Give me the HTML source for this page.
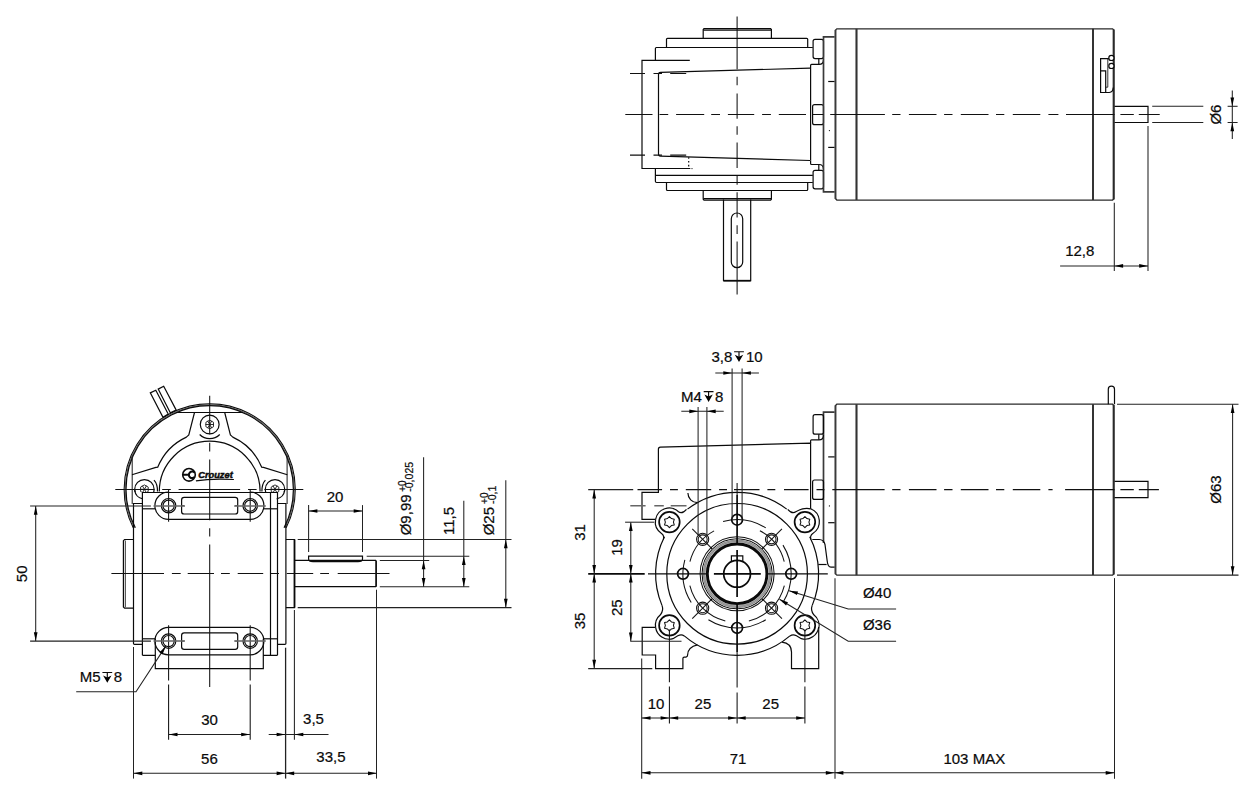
<!DOCTYPE html>
<html lang="en"><head><meta charset="utf-8"><title>Geared motor dimensions</title>
<style>
html,body{margin:0;padding:0;background:#fff}
svg{display:block}
path,circle,rect,polyline{fill:none;stroke:#0a0a0a;stroke-width:1;stroke-linecap:butt}
.m{stroke-width:1.2}
.k{stroke-width:1.7}
.kk{stroke-width:2.4}
.g{stroke:#3a3a3a;stroke-width:1.7}
.n{stroke-width:.9;stroke:#1a1a1a}
.c{stroke-width:1.05;stroke:#111}
.d{stroke-width:1.05;stroke:#222}
.h{stroke:#666;stroke-width:1.5}
.a{fill:#000;stroke:none}
.f{fill:#000;stroke:none}
text{font-family:"Liberation Sans","DejaVu Sans",sans-serif;font-size:15px;fill:#0a0a0a;stroke:#0a0a0a;stroke-width:.22px}
.s{font-size:10px}
.s2{font-size:10.6px}
.lg{font-size:8.8px;font-weight:bold;font-style:italic;stroke-width:.45px}
</style></head>
<body>
<svg width="1254" height="790" viewBox="0 0 1254 790">
<rect x="0" y="0" width="1254" height="790" style="fill:#fff;stroke:none"/>
<g id="top-view">
<path class="m" d="M703.2,38.3V29.5L704,28.6H770.6L771.4,29.5V38.3"/>
<path class="m" d="M703.4,30.1L771.2,30.1"/>
<path class="m" d="M703.2,190.4V199.2L704,200.1H770.6L771.4,199.2V190.4"/>
<path class="m" d="M703.4,198.6L771.2,198.6"/>
<path class="m" d="M666.5,47.5V39.3Q666.5,38.3 667.5,38.3H806.7Q807.7,38.3 807.7,39.3V47.5"/>
<path class="m" d="M666.5,182.5V189.5Q666.5,190.5 667.5,190.5H806.7Q807.7,190.5 807.7,189.5V182.5"/>
<path class="m" d="M655.4,60.3V48.5Q655.4,47.5 656.4,47.5H812.8"/>
<path class="m" d="M655.4,168.5V181.3Q655.4,182.5 656.6,182.5H812.8"/>
<path class="m" d="M655.4,175.4L812.8,175.4"/>
<path class="m" d="M689.8,60.3H642V168.5H690.3"/>
<path class="m" d="M810.1,68.1L660.5,72.4Q658.5,72.5 658.5,74.5V154.1Q658.5,156 660.5,156.1L810.1,160.5"/>
<path class="m" stroke-dasharray="1.6 2.2" d="M688.7,157.2V168"/>
<circle class="f" cx="692" cy="168.6" r="0.55"/>
<path class="m" d="M810.6,160.5V68.1"/>
<path class="m" d="M810.6,68.1V65.4Q810.6,64.4 811.6,64.4H819Q823.5,64.4 823.5,59.5"/>
<path class="m" d="M818.8,58.6L818.8,64.4"/>
<path class="m" d="M810.6,160.5V163.5Q810.6,164.5 811.6,164.5H819Q823.5,164.5 823.5,169.4"/>
<path class="m" d="M818.8,164.5L818.8,170.3"/>
<rect class="m" x="813.1" y="39.3" width="10.4" height="19.3" rx="2"/>
<rect class="m" x="812.6" y="104.6" width="10.9" height="20.1" rx="2"/>
<rect class="m" x="813.1" y="170.3" width="10.4" height="18.5" rx="2"/>
<path class="g" d="M834.6,36.8H823.5V191.8H834.6"/>
<path class="m" d="M828.2,81.5L834.6,81.5"/>
<path class="m" d="M828.2,147.4L834.6,147.4"/>
<circle class="f" cx="829.4" cy="130.6" r="0.6"/>
<path class="m" style="stroke-width:1.25;stroke:#2a2a2a" d="M836.8,28.8H1112.6L1113.9,30.1V198.7L1112.6,200H836.8L835.3,198.5V30.3Z"/>
<path class="g" d="M835.6,30L835.6,199"/>
<path class="kk" style="stroke:#333;stroke-width:2.1" d="M856.5,28.8L856.5,200"/>
<path class="k" style="stroke:#2a2a2a;stroke-width:1.9" d="M1093,28.8L1093,200"/>
<path class="k" style="stroke:#2a2a2a;stroke-width:1.9" d="M1113.6,29.5L1113.6,199.5"/>
<path class="m" d="M1112.5,58.7H1100.6V92.5H1109.3Q1113,92.2 1113.3,87.5"/>
<path class="m" d="M1100.6,70.8H1105.7V92.5"/>
<path class="n" d="M1107.8,58.7V87.2H1105.7"/>
<circle class="m" style="fill:#fff" cx="1111.4" cy="57.9" r="2.6"/>
<circle class="m" style="fill:#fff" cx="1111.4" cy="65.9" r="2.6"/>
<path class="m" d="M1114.5,106.3H1148V122.5H1114.5"/>
<path class="m" d="M723.5,199.4V280.7H750.7V199.4"/>
<path class="k" d="M723.5,280.7L750.7,280.7"/>
<rect class="m" x="731.3" y="213" width="11.4" height="54.7" rx="5.7"/>
<path class="c" d="M625.3,114.4H652.5M659.5,114.4H668.2M676.1,114.4H704.2M711.2,114.4H720M727.9,114.4H754.2M762.1,114.4H770.9M778.8,114.4H806M813,114.4H823.5M830.2,114.4H884.9M892.2,114.4H900.5M908.9,114.4H936.5M944.1,114.4H952.5M960.8,114.4H988.5M996,114.4H1004.3M1012.8,114.4H1040.3M1048.4,114.4H1058.4M1066,114.4H1114.5M1120.4,114.4H1133.8M1138.8,114.4H1159.7"/>
<path class="c" d="M737.1,16.4V69.2M737.1,76.7V85.3M737.1,93.4V118.7M737.1,126.2V134.8M737.1,142.5V168M737.1,175.5V184.7M737.1,192.2V217.5M737.1,225.2V234M737.1,241.6V294.5"/>
<path class="c" d="M630,73.5H645M653.5,73.5H662M670.2,73.5H686.2"/>
<path class="c" d="M630,155.1H645M653.5,155.1H662M670.2,155.1H686.2"/>
<path class="d" d="M1152.2,106.3L1203.3,106.3"/>
<path class="d" d="M1152.2,122.5L1203.3,122.5"/>
<path class="d" d="M1227.6,106.3L1237.6,106.3"/>
<path class="d" d="M1227.6,122.5L1237.6,122.5"/>
<path class="d" d="M1232.3,90.4L1232.3,139"/>
<polygon class="a" points="1232.3,106.3 1230.45,97.5 1234.15,97.5"/>
<polygon class="a" points="1232.3,122.5 1230.45,131.3 1234.15,131.3"/>
<text class="t" text-anchor="middle" transform="translate(1221.4,114.6) rotate(-90)">Ø6</text>
<path class="d" d="M1114.3,202.8L1114.3,271"/>
<path class="d" d="M1148,126L1148,271"/>
<path class="d" d="M1060.1,265.9L1148,265.9"/>
<polygon class="a" points="1114.3,265.9 1123.1,264.05 1123.1,267.75"/>
<polygon class="a" points="1148,265.9 1139.2,264.05 1139.2,267.75"/>
<text class="t" text-anchor="middle" x="1079.8" y="256.4">12,8</text>
</g>
<g id="front-view">
<path class="m" style="stroke-width:1.25;stroke:#2a2a2a" d="M836.8,404.2H1112.6L1113.9,405.5V573.8L1112.6,575.1H836.8L835.3,573.6V405.7Z"/>
<path class="g" d="M835.6,405.4L835.6,574.4"/>
<path class="kk" style="stroke:#333;stroke-width:2.1" d="M856.5,404.2L856.5,575.1"/>
<path class="k" style="stroke:#2a2a2a;stroke-width:1.9" d="M1093,404.2L1093,575.1"/>
<path class="k" style="stroke:#2a2a2a;stroke-width:1.9" d="M1113.6,405L1113.6,574.6"/>
<path class="m" d="M1108.3,404.2V389.2Q1108.3,386.2 1111.4,386.2Q1114.5,386.2 1114.5,389.2V404.2"/>
<path class="m" d="M1114.5,481.4H1148V497.7H1114.5"/>
<path class="g" d="M834.6,412.2H823.5V543"/>
<path class="m" d="M828.2,456.9L834.6,456.9"/>
<path class="m" d="M828.2,522.7L834.6,522.7"/>
<circle class="f" cx="829.4" cy="505.9" r="0.6"/>
<rect class="m" x="813.1" y="414.7" width="10.4" height="19.5" rx="2"/>
<rect class="m" x="812.6" y="480" width="10.9" height="19.4" rx="2"/>
<path class="m" d="M810.6,443.1V440.8Q810.6,439.8 811.6,439.8H819Q823.5,439.8 823.5,434.9"/>
<path class="m" d="M818.8,434.2L818.8,439.8"/>
<path class="m" d="M810.6,508.8V443.1L660.4,447.2Q658.4,447.3 658.4,449.3V492.4H642V519.4H655.6"/>
<path class="m" d="M812.3,539.5H819.2Q823.8,539.6 825,544.5L827.2,561Q827.8,567.2 831,567.2H834.6"/>
<path class="m" d="M818.3,564.5L826.6,564.5"/>
<path class="m" d="M687.9,493.1A9.5,9.5 0 0 0 697.4,502.6"/>
<path class="m" d="M687.49,509.14A81.5,81.5 0 0 1 786.71,509.14"/>
<path class="m" d="M661.97,605.38A81.5,81.5 0 0 1 664.48,536.8"/>
<path class="m" d="M809.72,536.8A81.5,81.5 0 0 1 812.23,605.38"/>
<path class="m" d="M789.92,635.87A81.5,81.5 0 0 1 684.28,635.87"/>
<path class="m" d="M655.6,519.4A13.8,13.8 0 0 1 678.5,511.7Q682,514.5 686.5,509.3"/>
<path class="m" d="M655.6,519.4A13.8,13.8 0 0 0 661.5,533.4Q664.6,535.6 663.3,539.5"/>
<path class="m" d="M810.6,508.8Q804,507 795.8,511.7Q792.3,514.5 787.7,509.3"/>
<path class="m" d="M810.6,508.8A13.8,13.8 0 0 1 812.8,533.4Q809.7,535.6 810.9,539.5"/>
<path class="m" d="M655.6,627.4A13.8,13.8 0 0 1 660.4,614.8Q663.9,610.3 662,605.4"/>
<path class="m" d="M655.6,627.4A13.8,13.8 0 0 0 673,638.7L677.8,635.8Q681.3,633.8 684.3,635.9"/>
<path class="m" d="M818.7,629.4A13.8,13.8 0 0 0 813.8,614.8Q810.3,610.3 812.2,605.4"/>
<path class="m" d="M818.7,627A13.8,13.8 0 0 1 801.3,638.7L796.5,635.8Q793,633.8 790,635.9"/>
<path class="m" d="M655.6,627.4H642.2V655H655.6V668.6H682.9V658.5Q682.9,657.1 684.3,657.1H686Q687.6,656.8 687.6,655Q687.8,647 697.5,644.9"/>
<path class="m" d="M818.7,629.4V668.6H791.5V652Q791.3,643.2 782,642.2"/>
<circle class="m" cx="737.1" cy="573.8" r="70.3"/>
<circle class="c" cx="737.1" cy="573.8" r="37"/>
<circle class="c" cx="737.1" cy="573.8" r="35"/>
<circle class="n" style="stroke:#b5b5b5;stroke-width:3" cx="737.1" cy="573.8" r="32.9"/>
<circle class="n" style="stroke:#6a6a6a;stroke-width:.55" cx="737.1" cy="573.8" r="33.7"/>
<circle class="n" style="stroke:#6a6a6a;stroke-width:.55" cx="737.1" cy="573.8" r="32.5"/>
<circle class="kk" style="stroke-width:2.9" cx="737.1" cy="573.8" r="29.8"/>
<circle class="k" cx="737.1" cy="573.8" r="13.4"/>
<path class="m" d="M731.4,561.8V555.9H742.8V561.8"/>
<path class="k" d="M713.9,573.8H760.8M737.1,550V597"/>
<circle class="k" cx="791.2" cy="573.8" r="5.4"/>
<circle class="k" cx="737.1" cy="627.9" r="5.4"/>
<circle class="k" cx="683" cy="573.8" r="5.4"/>
<circle class="k" cx="737.1" cy="519.7" r="5.4"/>
<path class="c" d="M723.1,521.54A54.1,54.1 0 0 1 765.77,527.92"/>
<path class="c" d="M782.98,545.13A54.1,54.1 0 0 1 782.98,602.47"/>
<path class="c" d="M765.77,619.68A54.1,54.1 0 0 1 708.43,619.68"/>
<path class="c" d="M691.22,602.47A54.1,54.1 0 0 1 684.84,559.8"/>
<circle class="c" cx="771.54" cy="608.24" r="6.1"/>
<circle class="c" cx="771.54" cy="608.24" r="4.5"/>
<path class="c" d="M762.77,599.47L781.93,618.63"/>
<circle class="f" cx="762.77" cy="599.47" r="0.8"/>
<circle class="c" cx="702.66" cy="608.24" r="6.1"/>
<circle class="c" cx="702.66" cy="608.24" r="4.5"/>
<path class="c" d="M711.43,599.47L692.27,618.63"/>
<circle class="f" cx="711.43" cy="599.47" r="0.8"/>
<circle class="c" cx="702.66" cy="539.36" r="6.1"/>
<circle class="c" cx="702.66" cy="539.36" r="4.5"/>
<path class="c" d="M711.43,548.13L692.27,528.97"/>
<circle class="f" cx="711.43" cy="548.13" r="0.8"/>
<circle class="c" cx="771.54" cy="539.36" r="6.1"/>
<circle class="c" cx="771.54" cy="539.36" r="4.5"/>
<path class="c" d="M762.77,548.13L781.93,528.97"/>
<circle class="f" cx="762.77" cy="548.13" r="0.8"/>
<path class="c" d="M759.89,530.76A48.7,48.7 0 0 1 784.23,561.52"/>
<path class="c" d="M784.35,585.58A48.7,48.7 0 0 1 748.88,621.05"/>
<path class="c" d="M725.32,621.05A48.7,48.7 0 0 1 689.85,585.58"/>
<path class="c" d="M689.93,561.69A48.7,48.7 0 0 1 714.09,530.88"/>
<circle class="k" cx="669.4" cy="522.1" r="10.3"/>
<path class="c" stroke-linejoin="round" d="M674.25,524.9L671.42,525.59L669.4,527.7L667.38,525.59L664.55,524.9L665.37,522.1L664.55,519.3L667.38,518.61L669.4,516.5L671.42,518.61L674.25,519.3L673.43,522.1Z"/>
<circle class="k" cx="804.9" cy="522.1" r="10.3"/>
<path class="c" stroke-linejoin="round" d="M809.75,524.9L806.92,525.59L804.9,527.7L802.88,525.59L800.05,524.9L800.87,522.1L800.05,519.3L802.88,518.61L804.9,516.5L806.92,518.61L809.75,519.3L808.93,522.1Z"/>
<circle class="k" cx="669.4" cy="625.4" r="10.3"/>
<path class="c" stroke-linejoin="round" d="M674.25,628.2L671.42,628.89L669.4,631L667.38,628.89L664.55,628.2L665.37,625.4L664.55,622.6L667.38,621.91L669.4,619.8L671.42,621.91L674.25,622.6L673.43,625.4Z"/>
<circle class="k" cx="804.9" cy="625.4" r="10.3"/>
<path class="c" stroke-linejoin="round" d="M809.75,628.2L806.92,628.89L804.9,631L802.88,628.89L800.05,628.2L800.87,625.4L800.05,622.6L802.88,621.91L804.9,619.8L806.92,621.91L809.75,622.6L808.93,625.4Z"/>
<path class="k" d="M588.2,573.8H644.7"/>
<path class="m" d="M648,573.8H707M767.2,573.8H827.8"/>
<path class="c" d="M737.1,483.1V495"/>
<path class="k" d="M737.1,495V543.5M737.1,604V652.3"/>
<path class="c" d="M737.1,652.3V687.5M737.1,692.6V723.5"/>
<path class="d" d="M588.2,489.6H633.2"/>
<path class="c" d="M637.5,489.6H662.1M670,489.6H677.9M685.8,489.6H711.2M719.1,489.6H727M734,489.6H759.5M767.4,489.6H775.3M784,489.6H808.6M816.5,489.6H824.4M832.3,489.6H884.6M892.2,489.6H900.5M908.9,489.6H936.5M944.1,489.6H952.5M960.8,489.6H988.5M996,489.6H1004.3M1012.8,489.6H1040.3M1048.4,489.6H1052.6M1065.1,489.6H1114.5M1120.4,489.6H1133.8M1138.8,489.6H1158.9"/>
<path class="h" d="M630.3,505.8H645.6M654.3,505.8H663.8M670.7,505.8H686.5"/>
<path class="c" d="M669.4,629.4V682.3M669.4,686.5V723.5"/>
<path class="c" d="M804.9,629.4V682.3M804.9,686.5V723.5"/>
<path class="d" d="M594.2,489.6L594.2,668.6"/>
<polygon class="a" points="594.2,489.6 592.35,498.4 596.05,498.4"/>
<polygon class="a" points="594.2,573.8 592.35,565 596.05,565"/>
<polygon class="a" points="594.2,573.8 592.35,582.6 596.05,582.6"/>
<polygon class="a" points="594.2,668.6 592.35,659.8 596.05,659.8"/>
<path class="d" d="M630.8,522.2L630.8,641.3"/>
<polygon class="a" points="630.8,522.2 628.95,531 632.65,531"/>
<polygon class="a" points="630.8,573.8 628.95,565 632.65,565"/>
<polygon class="a" points="630.8,573.8 628.95,582.6 632.65,582.6"/>
<polygon class="a" points="630.8,641.3 628.95,632.5 632.65,632.5"/>
<path class="d" d="M625.1,522.2L654.3,522.2"/>
<path class="d" d="M630.3,641.3L681.5,641.3"/>
<path class="d" d="M588.2,668.6L652.3,668.6"/>
<text class="t" text-anchor="middle" transform="translate(585.4,532.5) rotate(-90)">31</text>
<text class="t" text-anchor="middle" transform="translate(585.4,621) rotate(-90)">35</text>
<text class="t" text-anchor="middle" transform="translate(622.2,547.5) rotate(-90)">19</text>
<text class="t" text-anchor="middle" transform="translate(622.2,607.7) rotate(-90)">25</text>
<path class="d" d="M698.1,407L698.1,535"/>
<path class="d" d="M706.9,407L706.9,535"/>
<path class="d" d="M681.3,411.3L723.7,411.3"/>
<polygon class="a" points="698.1,411.3 689.3,409.45 689.3,413.15"/>
<polygon class="a" points="706.9,411.3 715.7,409.45 715.7,413.15"/>
<text class="t" text-anchor="start" x="681.1" y="401.5">M4</text>
<path class="m" style="stroke-width:1.15" d="M703.7,391.6H713.5M708.6,391.6V397.5"/>
<polygon class="a" points="708.6,401.9 704.4,394.6 708.6,396.6 712.8,394.6"/>
<text class="t" text-anchor="start" x="715.1" y="401.5">8</text>
<path class="d" d="M732.1,368.5L732.1,519"/>
<path class="d" d="M742.1,368.5L742.1,519"/>
<path class="d" d="M715.3,373L758.9,373"/>
<polygon class="a" points="732.1,373 723.3,371.15 723.3,374.85"/>
<polygon class="a" points="742.1,373 750.9,371.15 750.9,374.85"/>
<text class="t" text-anchor="start" x="711.4" y="361.6">3,8</text>
<path class="m" style="stroke-width:1.15" d="M734.1,351.7H743.9M739,351.7V357.6"/>
<polygon class="a" points="739,362 734.8,354.7 739,356.7 743.2,354.7"/>
<text class="t" text-anchor="start" x="746" y="361.6">10</text>
<path class="d" d="M641.7,658.5L641.7,778.8"/>
<path class="d" d="M835,578.2L835,778.8"/>
<path class="d" d="M1114.5,578.1L1114.5,778.8"/>
<path class="d" d="M641.7,718L805,718"/>
<polygon class="a" points="641.7,718 650.5,716.15 650.5,719.85"/>
<polygon class="a" points="669.4,718 660.6,716.15 660.6,719.85"/>
<polygon class="a" points="669.4,718 678.2,716.15 678.2,719.85"/>
<polygon class="a" points="736.9,718 728.1,716.15 728.1,719.85"/>
<polygon class="a" points="736.9,718 745.7,716.15 745.7,719.85"/>
<polygon class="a" points="805,718 796.2,716.15 796.2,719.85"/>
<path class="d" d="M641.7,772.8L1114.5,772.8"/>
<polygon class="a" points="641.7,772.8 650.5,770.95 650.5,774.65"/>
<polygon class="a" points="834.6,772.8 825.8,770.95 825.8,774.65"/>
<polygon class="a" points="834.6,772.8 843.4,770.95 843.4,774.65"/>
<polygon class="a" points="1114.5,772.8 1105.7,770.95 1105.7,774.65"/>
<text class="t" text-anchor="middle" x="656" y="708.5">10</text>
<text class="t" text-anchor="middle" x="702.9" y="708.5">25</text>
<text class="t" text-anchor="middle" x="770.7" y="708.5">25</text>
<text class="t" text-anchor="middle" x="738" y="763.7">71</text>
<text class="t" text-anchor="middle" x="974.3" y="763.8">103 MAX</text>
<path class="d" d="M1117,404.3L1238.5,404.3"/>
<path class="d" d="M1117,575.1L1238.5,575.1"/>
<path class="d" d="M1232.6,404.3L1232.6,575.1"/>
<polygon class="a" points="1232.6,404.3 1230.75,413.1 1234.45,413.1"/>
<polygon class="a" points="1232.6,575.1 1230.75,566.3 1234.45,566.3"/>
<text class="t" text-anchor="middle" transform="translate(1220.9,489.6) rotate(-90)">Ø63</text>
<path class="d" d="M789.1,590.7L848.2,609H896.1"/>
<polygon class="a" points="789.1,590.7 798.05,591.53 796.96,595.07"/>
<path class="d" d="M779.5,599.3L848.2,641.3H896.1"/>
<polygon class="a" points="779.5,599.3 787.98,602.31 786.05,605.46"/>
<text class="t" text-anchor="start" x="862.9" y="597.8">Ø40</text>
<text class="t" text-anchor="start" x="862.9" y="629.8">Ø36</text>
</g>
<g id="left-view">
<path class="m" d="M133.31,527.8A85.5,85.5 0 1 1 286.09,527.8"/>
<path class="n" style="stroke:#666;stroke-width:1.2" d="M134.32,527.8A84.6,84.6 0 1 1 285.08,527.8"/>
<path class="m" d="M135.33,527.8A83.7,83.7 0 1 1 284.07,527.8"/>
<path class="d" d="M132.2,455.4L132.2,504"/>
<path class="d" d="M287.1,455.4L287.1,504"/>
<path class="m" d="M150.3,392.9L155.8,390.3L168.2,414L163,417.3Z"/>
<path class="m" d="M158.2,389.1L163.7,386.2L176.2,410.1L170.4,412.9Z"/>
<path class="m" d="M175.9,412.5L242.9,412.5"/>
<path class="m" d="M194.5,412.5L188.8,435L186.4,437.1A57,57 0 0 0 157.8,467.1L155.9,467.4L132,474.8"/>
<path class="m" d="M224.7,412.5L230.4,435L232.8,437.1A57,57 0 0 1 261.6,467.1L263.5,467.4L287.3,474.8"/>
<path class="m" d="M159.3,491.6A50.4,50.4 0 0 1 260.1,491.6"/>
<path class="m" d="M154,480.2Q157.6,484 157.5,491.6"/>
<path class="m" d="M265.4,480.2Q261.8,484 261.9,491.6"/>
<circle class="m" cx="209.7" cy="424.5" r="9.4"/>
<path class="m" d="M219.74,434.54A14.2,14.2 0 0 1 199.66,434.54"/>
<path class="n" d="M213.51,426.7L209.7,428.9L205.89,426.7L205.89,422.3L209.7,420.1L213.51,422.3Z"/>
<path class="n" d="M213.9,424.5L205.5,424.5"/>
<path class="n" d="M211.8,428.14L207.6,420.86"/>
<path class="n" d="M207.6,428.14L211.8,420.86"/>
<clipPath id="cpl"><path d="M100,400H142.4V492.5H100Z"/></clipPath><clipPath id="cpr"><path d="M320,400H277.5V492.5H320Z"/></clipPath>
<clipPath id="cpl2"><path d="M100,400H320V492.3H100Z"/></clipPath>
<g clip-path="url(#cpl2)">
<circle class="m" cx="144.4" cy="489.3" r="9.7"/>
<path class="n" d="M148.21,491.5L144.4,493.7L140.59,491.5L140.59,487.1L144.4,484.9L148.21,487.1Z"/>
<path class="n" d="M148.6,489.3L140.2,489.3"/>
<path class="n" d="M146.5,492.94L142.3,485.66"/>
<path class="n" d="M142.3,492.94L146.5,485.66"/>
<circle class="m" cx="275" cy="489.3" r="9.7"/>
<path class="n" d="M278.81,491.5L275,493.7L271.19,491.5L271.19,487.1L275,484.9L278.81,487.1Z"/>
<path class="n" d="M279.2,489.3L270.8,489.3"/>
<path class="n" d="M277.1,492.94L272.9,485.66"/>
<path class="n" d="M272.9,492.94L277.1,485.66"/>
</g>
<path class="m" d="M142.72,498.85A9.7,9.7 0 0 1 134.74,490.15"/>
<path class="m" d="M284.66,490.15A9.7,9.7 0 0 1 276.68,498.85"/>
<circle class="k" style="stroke-width:1.6" cx="189" cy="474.8" r="6.3"/>
<path class="k" style="stroke-width:2.1" d="M194.7,472.7A3.3,3.3 0 1 0 194.7,476.9M183,474.8H188.6"/>
<text class="lg" text-anchor="start" x="198.2" y="477.6" textLength="34.6" lengthAdjust="spacingAndGlyphs">Crouzet</text>
<path class="k" style="stroke-width:1.2" d="M195.9,480.8Q212,478.2 233.9,479.5"/>
<path class="m" d="M142.4,655.3V492.5H277.5V655.3"/>
<path class="m" d="M270.5,492.5L270.5,655.3"/>
<path class="m" d="M142.4,503.5H133.5V643.6Q133.5,644.4 134.5,644.4H142.4"/>
<path class="m" d="M277.5,503.5H285.9V643.6Q285.9,644.4 284.9,644.4H277.5"/>
<path class="m" d="M142.4,508.8L155.3,508.8"/>
<path class="m" d="M263.5,508.8L277.5,508.8"/>
<path class="m" d="M142.4,638.8L155.3,638.8"/>
<path class="m" d="M263.5,638.8L277.5,638.8"/>
<path class="m" d="M168.6,492A13.7,13.7 0 0 0 168.6,519.4H250.2A13.7,13.7 0 0 0 250.2,492"/>
<circle class="m" cx="168.6" cy="505.7" r="7.2"/>
<circle class="m" cx="168.6" cy="505.7" r="5.6"/>
<circle class="m" cx="250.2" cy="505.7" r="7.2"/>
<circle class="m" cx="250.2" cy="505.7" r="5.6"/>
<rect class="m" x="181.6" y="497.4" width="56.1" height="16.6" rx="2.6"/>
<path class="n" d="M181.6,505.7h2.6M237.7,505.7h-2.6"/>
<path class="m" d="M168.6,627.4A13.7,13.7 0 0 0 168.6,654.8H250.2A13.7,13.7 0 0 0 250.2,627.4"/>
<circle class="m" cx="168.6" cy="641.1" r="7.2"/>
<circle class="m" cx="168.6" cy="641.1" r="5.6"/>
<circle class="m" cx="250.2" cy="641.1" r="7.2"/>
<circle class="m" cx="250.2" cy="641.1" r="5.6"/>
<rect class="m" x="181.6" y="632.8" width="56.1" height="16.6" rx="2.6"/>
<path class="n" d="M181.6,641.1h2.6M237.7,641.1h-2.6"/>
<path class="m" d="M168.6,627.4L250.2,627.4"/>
<path class="m" d="M142.4,655.3H155.3M263.3,655.3H277.5M155.3,638.8V668.7H263.3V638.8"/>
<path class="m" d="M133.5,539.5H124.6L123.4,540.7V606.9L124.6,608.1H133.5"/>
<path class="n" d="M125.3,540.5L125.3,607.2"/>
<path class="m" d="M285.9,539.5H294.5V607.6H285.9"/>
<path class="k" d="M294.5,539.5L294.5,607.6"/>
<path class="m" d="M294.7,560.4H376.1M294.7,586.7H376.1"/>
<path class="k" d="M376.1,560.4L376.1,586.7"/>
<path class="m" d="M308.6,556.2H362.5V559Q362.5,561.6 358,561.6H313Q308.6,561.6 308.6,559Z"/>
<path class="c" d="M115.3,489.4H154.5M162.2,489.4H170.8M178.6,489.4H240.1M248,489.4H256.6M264.4,489.4H303.3"/>
<path class="c" d="M209.7,395.8V434.2M209.7,442.7V451.4M209.7,459.4V520.3M209.7,528.3V536.4M209.7,544.4V686.9"/>
<path class="c" d="M111.4,573.5H164M171.9,573.5H180.7M187.7,573.5H214M221,573.5H229.8M237.7,573.5H263.2M271,573.5H279M286.8,573.5H313.2M320.2,573.5H329M337.7,573.5H389.5"/>
<path class="c" d="M168.6,489.7V521.7"/>
<path class="c" d="M168.6,625.2V680.4M168.6,684.6V739.8"/>
<path class="c" d="M250.2,489.7V521.7"/>
<path class="c" d="M250.2,625.2V680.4M250.2,684.6V739.8"/>
<path class="h" d="M153.5,505.9H185M234.2,505.9H265.8"/>
<path class="h" d="M153.5,641.1H185M234.2,641.1H265.8"/>
<path class="d" d="M30.1,505.9L150.9,505.9"/>
<path class="d" d="M30.1,641.1L150.9,641.1"/>
<path class="d" d="M35.7,505.9L35.7,641.1"/>
<polygon class="a" points="35.7,505.9 33.85,514.7 37.55,514.7"/>
<polygon class="a" points="35.7,641.1 33.85,632.3 37.55,632.3"/>
<text class="t" text-anchor="middle" transform="translate(26.5,573.8) rotate(-90)">50</text>
<path class="d" d="M165.8,646.1L136,691.7H76.2"/>
<polygon class="a" points="165.8,646.1 162.53,654.48 159.43,652.45"/>
<text class="t" text-anchor="start" x="79.8" y="682.4">M5</text>
<path class="m" style="stroke-width:1.15" d="M102.4,672.5H112.2M107.3,672.5V678.4"/>
<polygon class="a" points="107.3,682.8 103.1,675.5 107.3,677.5 111.5,675.5"/>
<text class="t" text-anchor="start" x="113.8" y="682.4">8</text>
<path class="d" d="M308.6,505.1L308.6,552"/>
<path class="d" d="M362.5,505.1L362.5,552"/>
<path class="d" d="M308.6,511L362.5,511"/>
<polygon class="a" points="308.6,511 317.4,509.15 317.4,512.85"/>
<polygon class="a" points="362.5,511 353.7,509.15 353.7,512.85"/>
<text class="t" text-anchor="middle" x="335.1" y="501.8">20</text>
<path class="d" d="M297.7,539.5L511.5,539.5"/>
<path class="d" d="M297.7,607.6L511.5,607.6"/>
<path class="d" d="M366.7,556.2L469.3,556.2"/>
<path class="d" d="M379.8,560.4L429.2,560.4"/>
<path class="d" d="M379.8,586.7L469.3,586.7"/>
<path class="d" d="M423.6,457.3L423.6,586.7"/>
<polygon class="a" points="423.6,560.4 421.75,569.2 425.45,569.2"/>
<polygon class="a" points="423.6,586.7 421.75,577.9 425.45,577.9"/>
<path class="d" d="M463.8,500.7L463.8,586.7"/>
<polygon class="a" points="463.8,556.2 461.95,565 465.65,565"/>
<polygon class="a" points="463.8,586.7 461.95,577.9 465.65,577.9"/>
<path class="d" d="M505.8,480.3L505.8,607.6"/>
<polygon class="a" points="505.8,539.5 503.95,548.3 507.65,548.3"/>
<polygon class="a" points="505.8,607.6 503.95,598.8 507.65,598.8"/>
<text class="t" text-anchor="start" transform="translate(410.8,535.3) rotate(-90)">Ø9,99</text>
<text class="s" text-anchor="start" transform="translate(405.7,491.8) rotate(-90)">+0</text>
<text class="s s2" text-anchor="start" transform="translate(413.3,491.8) rotate(-90)">-0,025</text>
<text class="t" text-anchor="start" transform="translate(454,535) rotate(-90)">11,5</text>
<text class="t" text-anchor="start" transform="translate(494.3,535.3) rotate(-90)">Ø25</text>
<text class="s" text-anchor="start" transform="translate(487.7,503.9) rotate(-90)">+0</text>
<text class="s s2" text-anchor="start" transform="translate(495.8,503.9) rotate(-90)">-0,1</text>
<path class="d" d="M133.5,647L133.5,778.6"/>
<path class="d" style="stroke-width:1.3" d="M285.6,647.7L285.6,778.6"/>
<path class="d" d="M294.4,610L294.4,739.8"/>
<path class="d" d="M376.5,589.7L376.5,778.6"/>
<path class="d" d="M168.7,734.5L250,734.5"/>
<polygon class="a" points="168.7,734.5 177.5,732.65 177.5,736.35"/>
<polygon class="a" points="250,734.5 241.2,732.65 241.2,736.35"/>
<path class="d" d="M268.7,734.5L328.5,734.5"/>
<polygon class="a" points="285.4,734.5 276.6,732.65 276.6,736.35"/>
<polygon class="a" points="294.5,734.5 303.3,732.65 303.3,736.35"/>
<path class="d" d="M133.5,773.3L376.8,773.3"/>
<polygon class="a" points="133.5,773.3 142.3,771.45 142.3,775.15"/>
<polygon class="a" points="285.4,773.3 276.6,771.45 276.6,775.15"/>
<polygon class="a" points="285.4,773.3 294.2,771.45 294.2,775.15"/>
<polygon class="a" points="376.8,773.3 368,771.45 368,775.15"/>
<text class="t" text-anchor="middle" x="209.5" y="725.4">30</text>
<text class="t" text-anchor="middle" x="313.5" y="724.4">3,5</text>
<text class="t" text-anchor="middle" x="209.4" y="763.7">56</text>
<text class="t" text-anchor="middle" x="330.9" y="762.2">33,5</text>
</g>
</svg>
</body></html>
